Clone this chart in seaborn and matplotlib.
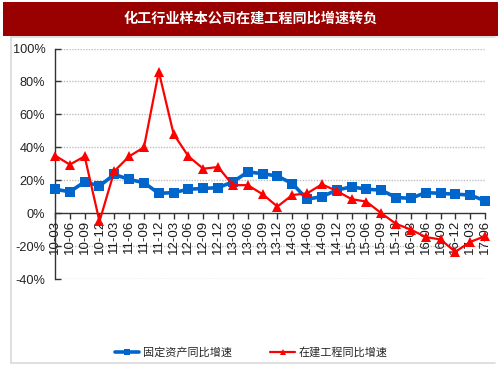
import matplotlib
matplotlib.use("Agg")
import matplotlib.pyplot as plt
import seaborn as sns
import pandas as pd
from matplotlib.patches import Rectangle
from matplotlib.lines import Line2D

categories = ["10-03", "10-06", "10-09", "10-12", "11-03", "11-06", "11-09", "11-12",
              "12-03", "12-06", "12-09", "12-12", "13-03", "13-06", "13-09", "13-12",
              "14-03", "14-06", "14-09", "14-12", "15-03", "15-06", "15-09", "15-12",
              "16-03", "16-06", "16-09", "16-12", "17-03", "17-06"]
fixed_assets = [14.5, 13, 19, 16.5, 23.5, 20.5, 18.5, 12, 12.5, 14.5, 15, 15.5,
                19, 25, 24, 22.5, 18, 8.5, 10, 14, 16, 14.5, 14, 9.5,
                9, 12.5, 12, 11.5, 11, 7.5]
construction = [35, 29.5, 34.5, -5, 25.5, 34.5, 40, 86, 48, 34.5, 27, 28,
                17, 17, 11.5, 4, 11, 12, 17.5, 13.5, 8.5, 7, 0, -6.5,
                -10, -14.5, -16, -23.5, -17.5, -14]
series_names = ["固定资产同比增速", "在建工程同比增速"]
y_ticks = [-40, -20, 0, 20, 40, 60, 80, 100]
title = "化工行业样本公司在建工程同比增速转负"

sns.set_theme(style="white")
plt.rcParams["font.family"] = ["Liberation Sans", "DejaVu Sans"]
cjk = ["Noto Sans CJK SC", "DejaVu Sans"]

W, H = 503, 378
fig = plt.figure(figsize=(W / 100, H / 100), dpi=100)
fig.patch.set_facecolor("white")

# frame lines and title banner
frame_c = "#D9D9D9"
fig.add_artist(Line2D([11 / W, 11 / W], [1 - 37 / H, 1 - 363 / H], color=frame_c, lw=1.2))
fig.add_artist(Line2D([11 / W, 495 / W], [1 - 363 / H, 1 - 363 / H], color=frame_c, lw=1.2))
fig.add_artist(Line2D([11 / W, 495 / W], [1 - 37 / H, 1 - 37 / H], color=frame_c, lw=1.2))
fig.add_artist(Rectangle((3 / W, 1 - 36 / H), 495 / W, 34 / H, transform=fig.transFigure,
                         facecolor="#990000", edgecolor="none"))
fig.text(251 / W, 1 - 19 / H, title, color="white", fontsize=10.2, fontweight="bold",
         family=cjk, ha="center", va="center")

ax = fig.add_axes([55 / W, 1 - 279 / H, (485 - 55) / W, (279 - 48.5) / H])
df = pd.DataFrame({"x": list(range(len(categories))) * 2,
                   "y": fixed_assets + construction,
                   "s": [series_names[0]] * len(categories) + [series_names[1]] * len(categories)})

sns.lineplot(data=df[df.s == series_names[0]], x="x", y="y", ax=ax, color="#0066CC",
             lw=2.6, marker="s", markersize=6.5, markeredgewidth=0, sort=False,
             clip_on=False, zorder=4, label=series_names[0], legend=False)
sns.lineplot(data=df[df.s == series_names[1]], x="x", y="y", ax=ax, color="#FF0000",
             lw=1.6, marker="^", markersize=7, markeredgewidth=0, sort=False,
             clip_on=False, zorder=5, label=series_names[1], legend=False)

for s in ["top", "right"]:
    ax.spines[s].set_visible(False)
ax.spines["bottom"].set_position(("data", 0))
ax.spines["bottom"].set_color("#333333")
ax.spines["left"].set_color("#333333")
ax.spines["bottom"].set_linewidth(1.0)
ax.spines["left"].set_linewidth(1.0)
ax.spines["bottom"].set_zorder(1)

ax.set_xlim(0, len(categories) - 1)
ax.set_ylim(-40, 100)
ax.set_yticks(y_ticks)
ax.set_yticklabels([f"{v}%" for v in y_ticks], fontsize=9.2,
                   family=["Liberation Sans Narrow", "Liberation Sans"], color="#222222")
ax.set_xticks(range(len(categories)))
ax.set_xticklabels(categories, rotation=90, fontsize=9.5, color="#1a1a1a", va="top", ha="center")
ax.set_xlabel("")
ax.set_ylabel("")

for v in y_ticks:
    if v != 0:
        ax.axhline(v, color="#BFBFBF", lw=1.0, ls=(0, (1, 1)), zorder=0)

ax.tick_params(axis="x", direction="out", length=4, width=1, color="#333333", pad=1,
               bottom=True, labelrotation=90)
ax.tick_params(axis="y", direction="in", length=4, width=1, color="#333333", pad=7, left=True)
ax.set_facecolor("none")

handles = [Line2D([], [], color="#0066CC", lw=2.6, marker="s", markersize=5, markeredgewidth=0),
           Line2D([], [], color="#FF0000", lw=1.6, marker="^", markersize=5, markeredgewidth=0)]
fig.legend(handles, series_names, loc="center", bbox_to_anchor=(251 / W, 1 - 352 / H),
           ncol=2, frameon=False, prop={"family": cjk, "size": 8}, handlelength=2.2,
           columnspacing=3.5, handletextpad=0.3)

fig.savefig("out.png", dpi=100)
